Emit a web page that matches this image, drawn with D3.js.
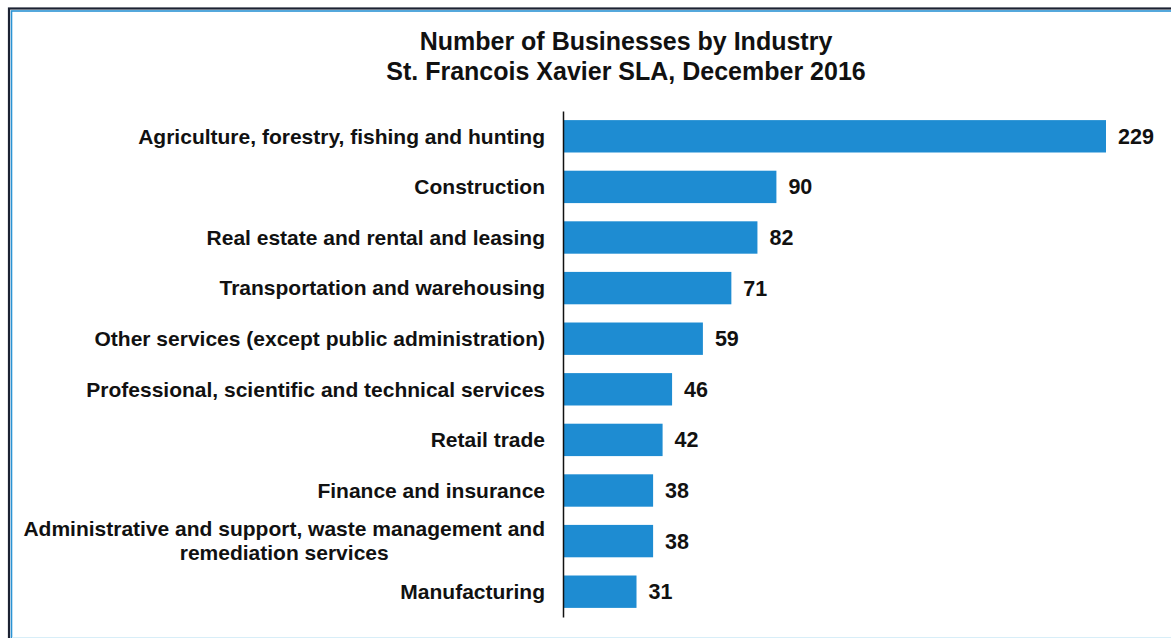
<!DOCTYPE html>
<html><head><meta charset="utf-8">
<script src="https://cdn.jsdelivr.net/npm/d3@7"></script>
<style>
html,body{margin:0;padding:0;background:#fff;}
svg{display:block;font-family:"Liberation Sans",Arial,sans-serif;}
</style></head>
<body>
<svg id="chart" width="1171" height="638"></svg>
<script>
const categories = [
  ["Agriculture, forestry, fishing and hunting"],
  ["Construction"],
  ["Real estate and rental and leasing"],
  ["Transportation and warehousing"],
  ["Other services (except public administration)"],
  ["Professional, scientific and technical services"],
  ["Retail trade"],
  ["Finance and insurance"],
  ["Administrative and support, waste management and", "remediation services"],
  ["Manufacturing"]
];
const values = [229, 90, 82, 71, 59, 46, 42, 38, 38, 31];
const titleLines = ["Number of Businesses by Industry", "St. Francois Xavier SLA, December 2016"];

const svg = d3.select("#chart");
// frame (extends past right and bottom edges)
svg.append("rect").attr("x", 9).attr("y", 8.5).attr("width", 1200).attr("height", 700)
  .attr("fill", "none").attr("stroke", "#1c2233").attr("stroke-width", 2.2);
svg.append("rect").attr("x", 11.5).attr("y", 11).attr("width", 1200).attr("height", 700)
  .attr("fill", "none").attr("stroke", "#2b93d4").attr("stroke-width", 1.6);
svg.append("line").attr("x1", 12).attr("x2", 1171).attr("y1", 637.5).attr("y2", 637.5)
  .attr("stroke", "#d8eef8").attr("stroke-width", 1);

svg.append("text").attr("x", 626).attr("text-anchor", "middle")
  .attr("font-size", 25).attr("font-weight", "bold").attr("fill", "#111")
  .selectAll("tspan").data(titleLines).join("tspan")
  .attr("x", 626).attr("y", (d, i) => 50 + i * 30).text(d => d);

const x = d3.scaleLinear().domain([0, 229]).range([563, 1106]);
const y = d3.scaleBand().domain(d3.range(values.length)).range([111, 617]).paddingInner(0.36).paddingOuter(0.18);

svg.append("g").selectAll("rect").data(values).join("rect")
  .attr("x", x(0)).attr("y", (d, i) => y(i))
  .attr("width", d => x(d) - x(0)).attr("height", y.bandwidth())
  .attr("fill", "#1e8cd2");

const axis = d3.axisLeft(y).tickSize(0).tickFormat("");
const ag = svg.append("g").attr("transform", `translate(${x(0)},0)`).call(axis);
ag.select(".domain").attr("stroke", "#111").attr("stroke-width", 1.5);

// value labels
svg.append("g").selectAll("text").data(values).join("text")
  .attr("x", d => x(d) + 12).attr("y", (d, i) => y(i) + y.bandwidth() / 2)
  .attr("dy", "0.35em").attr("font-size", 21.5).attr("font-weight", "bold").attr("fill", "#111")
  .text(d => d);

// category labels
const FS = 21;
const lg = svg.append("g");
categories.forEach((lines, i) => {
  const cy = y(i) + y.bandwidth() / 2;
  const t = lg.append("text").attr("font-size", FS).attr("font-weight", "bold").attr("fill", "#111");
  if (lines.length === 1) {
    t.attr("x", 545).attr("y", cy).attr("dy", "0.35em").attr("text-anchor", "end").text(lines[0]);
  } else {
    const tmp = lg.append("text").attr("font-size", FS).attr("font-weight", "bold").text(lines[0]);
    const w = tmp.node().getComputedTextLength();
    tmp.remove();
    const cx = 545 - w / 2;
    t.attr("text-anchor", "middle").selectAll("tspan").data(lines).join("tspan")
      .attr("x", cx).attr("y", (d, k) => cy + (k - (lines.length - 1) / 2) * 24)
      .attr("dy", "0.35em").text(d => d);
  }
});
</script>
</body></html>
